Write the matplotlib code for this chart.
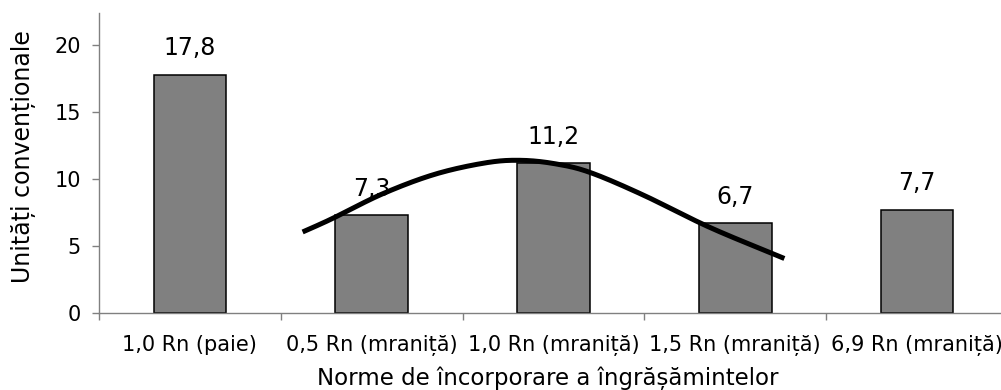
import numpy as np
import matplotlib
matplotlib.use("Agg")
import matplotlib.pyplot as plt

plt.rcParams['font.family'] = ['DejaVu Sans']

# Data
categories = ["1,0 Rn (paie)", "0,5 Rn (mraniță)", "1,0 Rn (mraniță)",
              "1,5 Rn (mraniță)", "6,9 Rn (mraniță)"]
values = [17.8, 7.3, 11.2, 6.7, 7.7]
value_labels = ["17,8", "7,3", "11,2", "6,7", "7,7"]
y_ticks = [0, 5, 10, 15, 20]

# Trend curve drawn across the manure treatments (category-index units)
trend_x = [0.62, 0.78, 1.06, 1.35, 1.63, 1.82, 2.01, 2.20, 2.49, 2.86, 3.27]
trend_y = [6.05, 7.03, 8.90, 10.37, 11.22, 11.40, 11.14, 10.50, 8.83, 6.39, 4.07]


def catmull_rom(px, py, n=30):
    """Smooth centripetal-free Catmull-Rom path through the given nodes."""
    p = np.column_stack([px, py])
    p = np.vstack([2 * p[0] - p[1], p, 2 * p[-1] - p[-2]])
    out = []
    t = np.linspace(0, 1, n, endpoint=False)[:, None]
    for i in range(1, len(p) - 2):
        p0, p1, p2, p3 = p[i - 1], p[i], p[i + 1], p[i + 2]
        seg = 0.5 * ((2 * p1) + (-p0 + p2) * t
                     + (2 * p0 - 5 * p1 + 4 * p2 - p3) * t ** 2
                     + (-p0 + 3 * p1 - 3 * p2 + p3) * t ** 3)
        out.append(seg)
    out.append(p[-2][None, :])
    out = np.vstack(out)
    return out[:, 0], out[:, 1]


fig = plt.figure(figsize=(10.01, 3.90), dpi=100)
ax = fig.add_axes([99 / 1001, 1 - 313 / 390, 909 / 1001, 300 / 390])

x = np.arange(len(categories))
ax.bar(x, values, width=0.4, color="#808080", edgecolor="black",
       linewidth=1.1, zorder=2)

for xi, v, lab in zip(x, values, value_labels):
    ax.annotate(lab, (xi, v), xytext=(0, 14), textcoords="offset points",
                ha="center", va="baseline", fontsize=17, zorder=4)

cx, cy = catmull_rom(trend_x, trend_y)
ax.plot(cx, cy, color="black", linewidth=3.6, solid_capstyle="butt", zorder=3)

ax.set_xlim(-0.5, len(categories) - 0.5)
ax.set_ylim(0, 22.4)

ax.set_yticks(y_ticks)
ax.set_yticklabels([str(t) for t in y_ticks])
ax.set_xticks(x)
ax.set_xticklabels(categories)
ax.set_xticks(np.arange(-0.5, len(categories), 1.0), minor=True)

ax.tick_params(axis="y", direction="out", length=5, width=1, color="#808080",
               labelsize=15, pad=8)
ax.tick_params(axis="x", which="major", length=0, labelsize=15, pad=16)
ax.tick_params(axis="x", which="minor", direction="out", length=5, width=1,
               color="#808080")

for side in ("top", "right"):
    ax.spines[side].set_visible(False)
for side in ("left", "bottom"):
    ax.spines[side].set_color("#808080")
    ax.spines[side].set_linewidth(1)

fig.text(24 / 1001, 1 - 157 / 390, "Unități convenționale", rotation=90,
         ha="center", va="center", fontsize=17)
fig.text(548 / 1001, 1 - 378 / 390, "Norme de încorporare a îngrășămintelor",
         ha="center", va="center", fontsize=16.5)

fig.savefig("out.png", dpi=100)
